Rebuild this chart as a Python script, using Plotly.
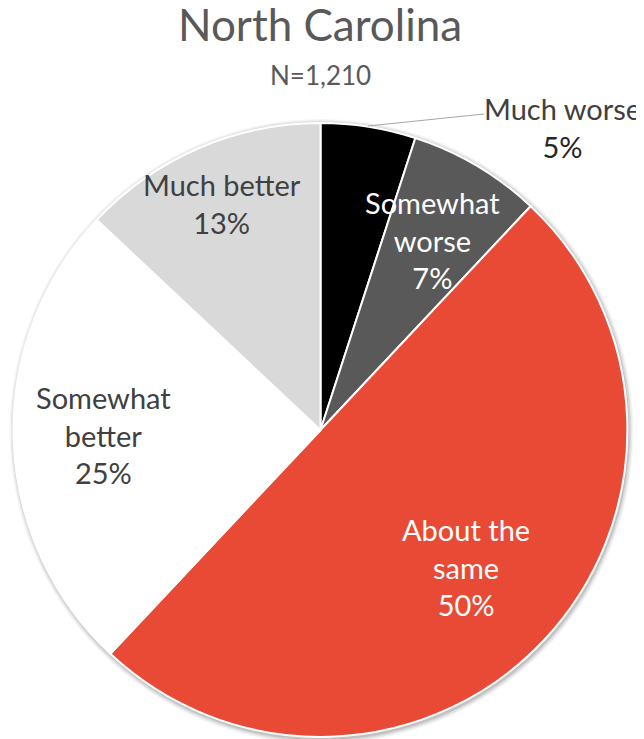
import plotly.graph_objects as go

# page body has an 8px margin: figure sized to fill the remaining viewport
OFF = 8
W, H = 644 - OFF, 739 - OFF

categories = ["Much worse", "Somewhat worse", "About the same", "Somewhat better", "Much better"]
values = [5, 7, 50, 25, 13]
colors = ["#000000", "#595959", "#E84A36", "#FFFFFF", "#D9D9D9"]
title_text = "North Carolina"
subtitle_text = "N=1,210"

# pie geometry (screen pixels)
cx, cy, r = 320.5, 430, 307

def px(x):
    return (x - OFF) / W

def py(y):
    return 1 - (y - OFF) / H

fig = go.Figure()
fig.add_trace(go.Pie(
    labels=categories,
    values=values,
    sort=False,
    direction="clockwise",
    rotation=0,
    marker=dict(colors=colors, line=dict(color="#FFFFFF", width=2)),
    textinfo="none",
    hoverinfo="label+percent",
    showlegend=False,
    domain=dict(x=[px(cx - r), px(cx + r)], y=[py(cy + r), py(cy - r)]),
))

shapes = []
# soft shadow rings behind the pie
for i, a in enumerate([0.04, 0.05, 0.07, 0.10]):
    rr = r + 5 - i * 1.3
    shapes.append(dict(
        type="circle", xref="paper", yref="paper", layer="below",
        x0=px(cx - rr + 1), x1=px(cx + rr + 1), y0=py(cy + rr + 2), y1=py(cy - rr + 1),
        line=dict(width=0), fillcolor=f"rgba(0,0,0,{a})",
    ))
# leader line for "Much worse"
shapes.append(dict(type="line", xref="paper", yref="paper",
                   x0=px(368), y0=py(126), x1=px(484), y1=py(114),
                   line=dict(color="#A6A6A6", width=1)))

FONT = "Lato"
annos = []
annos.append(dict(text=title_text, x=px(320), y=py(24), font=dict(size=44, color="#595959", family=FONT)))
annos.append(dict(text=subtitle_text, x=px(320), y=py(75), font=dict(size=26, color="#595959", family=FONT)))

label_specs = [
    ("Much worse<br><span style='color:#262626'>5%</span>", 562, 127, "#404040"),
    ("Somewhat<br>worse<br>7%", 432, 240, "#FFFFFF"),
    ("About the<br>same<br>50%", 466, 567, "#FFFFFF"),
    ("Somewhat<br>better<br>25%", 103, 435, "#404040"),
    ("Much better<br>13%", 222, 204, "#404040"),
]
for text, x, y, c in label_specs:
    annos.append(dict(text=text, x=px(x), y=py(y), font=dict(size=29, color=c, family=FONT)))

for a in annos:
    a.update(xref="paper", yref="paper", showarrow=False, xanchor="center", yanchor="middle", align="center")

fig.update_layout(
    width=W, height=H,
    margin=dict(l=0, r=0, t=0, b=0),
    paper_bgcolor="#FFFFFF", plot_bgcolor="#FFFFFF",
    shapes=shapes, annotations=annos,
    font=dict(family=FONT),
)
fig.write_html("out.html")
